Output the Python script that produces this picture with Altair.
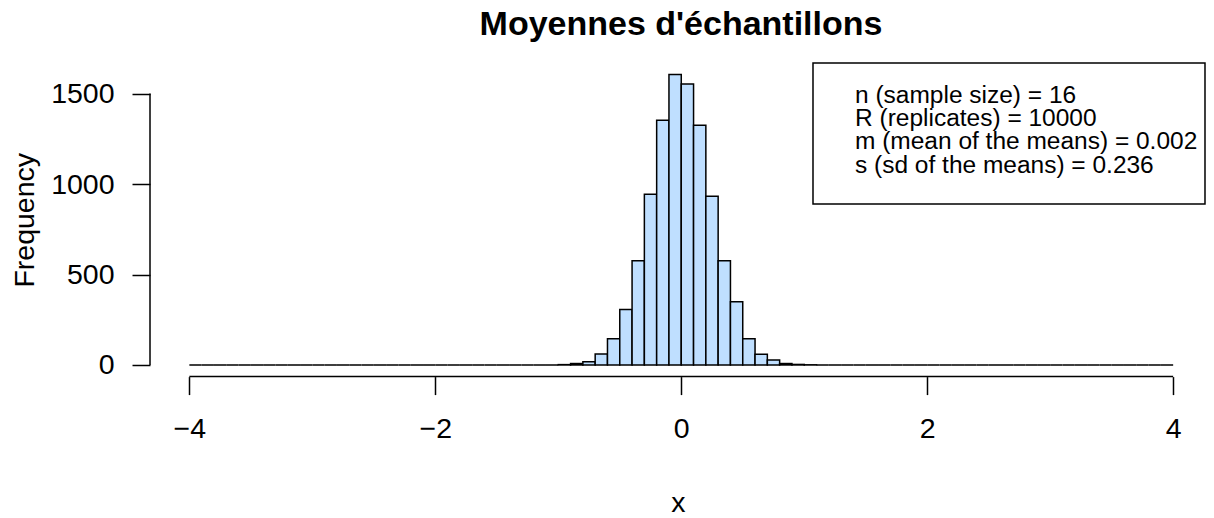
import altair as alt
import pandas as pd

# ---------------- data ----------------
title_text = "Moyennes d'échantillons"
x_title = "x"
y_title = "Frequency"
x_ticks = [-4, -2, 0, 2, 4]
y_ticks = [0, 500, 1000, 1500]
bin_width = 0.1
hist_start = -4.0
left_zero_bins = 30    # -4.0 .. -1.0 : empty bins
right_zero_bins = 29   #  1.1 ..  4.0 : empty bins
# counts for bins -1.0 .. 1.1 (width 0.1)
center_counts = [2, 8, 18, 61, 145, 307, 576, 944, 1353, 1605,
                 1553, 1325, 933, 576, 350, 145, 60, 28, 8, 3, 1]
legend_lines = [
    "n (sample size) = 16",
    "R (replicates) = 10000",
    "m (mean of the means) = 0.002",
    "s (sd of the means) = 0.236",
]

counts = [0] * left_zero_bins + center_counts + [0] * right_zero_bins
starts = [round(hist_start + i * bin_width, 2) for i in range(len(counts))]
ends = [round(s + bin_width, 2) for s in starts]
df = pd.DataFrame({"start": starts, "end": ends, "count": counts, "base": 0})

# ---------------- layout ----------------
W = 1056
H = 313.6
FONT = "Liberation Sans"
AX = 28.5
LEG = 24.5

xs = alt.Scale(domain=[-4.32, 4.267], nice=False, zero=False)
ys = alt.Scale(domain=[-64.2, 1669.2], nice=False, zero=False)

x_axis = alt.Axis(values=x_ticks, format="d", domain=False, grid=False, tickSize=18, tickWidth=1.5,
                  tickColor="black", labelFont=FONT, labelFontSize=AX, labelColor="black",
                  labelBaseline="alphabetic", labelPadding=43.4, labelFlush=False,
                  title=x_title, titleFont=FONT, titleFontSize=AX, titleFontWeight="normal",
                  titleColor="black", titleY=135, titleBaseline="alphabetic")
y_axis = alt.Axis(values=y_ticks, format="d", domain=False, grid=False, tickSize=18, tickWidth=1.5,
                  tickColor="black", labelFont=FONT, labelFontSize=AX, labelColor="black",
                  labelAlign="right", labelBaseline="middle", labelPadding=18,
                  title=y_title, titleFont=FONT, titleFontSize=AX, titleFontWeight="normal",
                  titleColor="black", titleAngle=270, titleX=-117, titleY=H / 2,
                  titleBaseline="alphabetic", titleAlign="center")

bars = alt.Chart(df).mark_rect(fill="#BFDFFF", stroke="black", strokeWidth=1.5).encode(
    x=alt.X("start:Q", scale=xs, axis=x_axis),
    x2="end:Q",
    y=alt.Y("count:Q", scale=ys, axis=y_axis),
    y2="base:Q",
)

axis_df = pd.DataFrame({"start": [x_ticks[0]], "end": [x_ticks[-1]],
                        "count": [y_ticks[-1]], "base": [y_ticks[0]]})
x_line = alt.Chart(axis_df).mark_rule(color="black", strokeWidth=1.5).encode(
    x=alt.X("start:Q", scale=xs, axis=x_axis), x2="end:Q", y=alt.value(H))
y_line = alt.Chart(axis_df).mark_rule(color="black", strokeWidth=1.5).encode(
    y=alt.Y("count:Q", scale=ys, axis=y_axis), y2="base:Q", x=alt.value(0))

one = pd.DataFrame({"t": [title_text]})
title = alt.Chart(one).mark_text(font=FONT, fontSize=34, fontWeight="bold", color="black",
                                 align="center", baseline="alphabetic").encode(
    text="t:N", x=alt.value(531), y=alt.value(-28))

box = alt.Chart(one).mark_rect(fill="white", stroke="black", strokeWidth=1.5).encode(
    x=alt.value(663), x2=alt.value(W - 1), y=alt.value(0), y2=alt.value(141))

layers = [bars, x_line, y_line, title, box]
leg_y = [40.3, 63.4, 86.5, 109.6]
for line, yy in zip(legend_lines, leg_y):
    d = pd.DataFrame({"t": [line]})
    layers.append(alt.Chart(d).mark_text(font=FONT, fontSize=LEG, color="black", align="left",
                                         baseline="alphabetic").encode(
        text="t:N", x=alt.value(705), y=alt.value(yy)))

chart = alt.layer(*layers).properties(
    width=W, height=H,
    autosize=alt.AutoSizeParams(type="none"),
    padding={"left": 142, "top": 55, "right": 0, "bottom": 141},
).configure(background="white").configure_view(stroke=None)

chart.save("out.html", embed_options={"renderer": "svg", "actions": False})
